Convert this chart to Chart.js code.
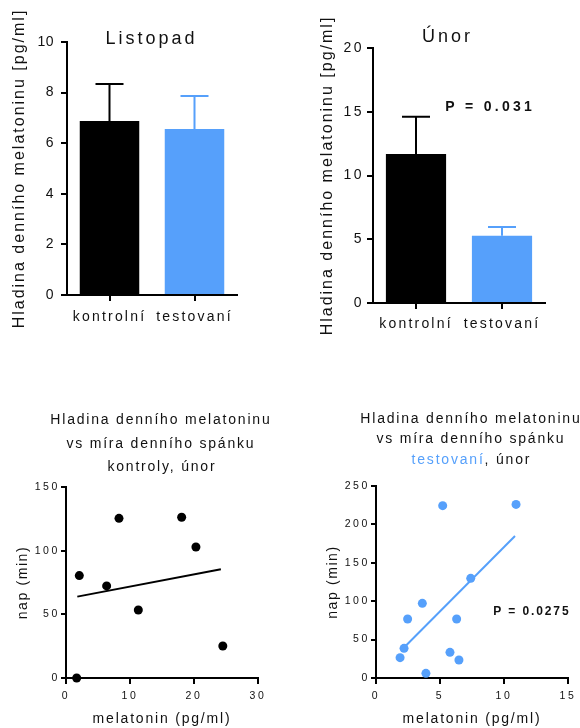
<!DOCTYPE html>
<html lang="cs">
<head>
<meta charset="UTF-8">
<title>Hladina denního melatoninu</title>
<script src="https://cdn.jsdelivr.net/npm/chart.js@4.4.1/dist/chart.umd.min.js"></script>
<style>
  * { margin: 0; padding: 0; box-sizing: border-box; }
  body { width: 580px; height: 728px; background: #fff; position: relative; overflow: hidden; }
  canvas { position: absolute; }
  #nov { left: 0; top: 0; }
  #feb { left: 290px; top: 0; }
  #ctrl { left: 0; top: 400px; }
  #test { left: 290px; top: 400px; }
</style>
</head>
<body>
<canvas id="nov" width="290" height="340"></canvas>
<canvas id="feb" width="290" height="340"></canvas>
<canvas id="ctrl" width="290" height="328"></canvas>
<canvas id="test" width="290" height="328"></canvas>

<script>
// --- data ---
const groups = ['kontrolní', 'testovaní'];

const novMeans = [6.88, 6.56];
const novSem = [1.46, 1.31];
const novTicks = [0, 2, 4, 6, 8, 10];

const febMeans = [11.69, 5.27];
const febSem = [2.91, 0.69];
const febTicks = [0, 5, 10, 15, 20];

const ctrlMelatonin = [1.67, 2.08, 6.35, 8.28, 11.3, 18.07, 20.3, 24.5];
const ctrlNap = [0, 80.4, 72.3, 125.4, 53.4, 126.2, 102.9, 25.1];
const ctrlFitX = [1.77, 24.2];
const ctrlFitY = [63.9, 85.4];
const ctrlXTicks = [0, 10, 20, 30];
const ctrlYTicks = [0, 50, 100, 150];

const testMelatonin = [1.88, 2.19, 2.47, 3.62, 3.9, 5.21, 5.78, 6.3, 6.48, 7.4, 10.94];
const testNap = [26.5, 38.6, 76.8, 97.2, 6.1, 224.4, 33.4, 76.8, 23.4, 129.8, 226];
const testFitX = [2.21, 10.86];
const testFitY = [40, 184.9];
const testXTicks = [0, 5, 10, 15];
const testYTicks = [0, 50, 100, 150, 200, 250];

// --- styling ---
const FONT = "'Liberation Sans', Arial, Helvetica, sans-serif";
const INK = '#111';
const BLUE = '#56a0fb';

// fixes the axis box size and spaces out its text like Prism does
function axisBox(size, labelPx, titlePx) {
  return scale => {
    if (scale.isHorizontal()) scale.height = size; else scale.width = size;
    if (scale._spaced) return;
    scale._spaced = true;
    const ctx = scale.ctx;
    [['drawLabels', labelPx], ['drawTitle', titlePx]].forEach(([name, px]) => {
      const orig = scale[name].bind(scale);
      scale[name] = (...a) => {
        ctx.save();
        ctx.letterSpacing = px + 'px';
        orig(...a);
        ctx.restore();
      };
    });
  };
}

const useTicks = list => scale => { scale.ticks = list.map(v => ({ value: v })); };

function axis(opts) {
  return {
    type: opts.type || 'linear',
    min: opts.min,
    max: opts.max,
    offset: !!opts.offset,
    afterBuildTicks: opts.ticks ? useTicks(opts.ticks) : undefined,
    afterFit: axisBox(opts.size, opts.labelSpacing, opts.titleSpacing || 0),
    border: { display: true, color: '#000', width: 2 },
    grid: {
      display: true, drawOnChartArea: false, drawTicks: true, offset: false,
      tickLength: opts.tickLength, color: '#000', lineWidth: 2
    },
    ticks: {
      color: INK, padding: opts.labelPad, autoSkip: false, maxRotation: 0,
      font: { family: FONT, size: opts.fontSize }
    },
    title: opts.title ? {
      display: true, text: opts.title, color: INK,
      font: { family: FONT, size: opts.titleSize },
      padding: { top: opts.titlePad, bottom: opts.titlePad }
    } : { display: false }
  };
}

function errorBars(errors) {
  return {
    id: 'errorBars',
    afterDatasetsDraw(chart) {
      const { ctx } = chart;
      const y = chart.scales.y;
      const ds = chart.data.datasets[0];
      chart.getDatasetMeta(0).data.forEach((bar, i) => {
        const top = y.getPixelForValue(ds.data[i] + errors[i]);
        ctx.save();
        ctx.strokeStyle = ds.backgroundColor[i];
        ctx.lineWidth = 2;
        ctx.beginPath();
        ctx.moveTo(bar.x, bar.y);
        ctx.lineTo(bar.x, top);
        ctx.moveTo(bar.x - 14, top);
        ctx.lineTo(bar.x + 14, top);
        ctx.stroke();
        ctx.restore();
      });
    }
  };
}

// titles and P values, centred on x; "at" puts them in data coordinates
function texts(items) {
  return {
    id: 'texts',
    afterDraw(chart) {
      const ctx = chart.ctx;
      items.forEach(it => {
        ctx.save();
        ctx.font = it.font;
        ctx.letterSpacing = it.spacing + 'px';
        ctx.textBaseline = 'alphabetic';
        ctx.textAlign = 'left';
        let x = it.x, y = it.y;
        if (it.at) {
          x = chart.scales.x.getPixelForValue(it.at[0]);
          y = chart.scales.y.getPixelForValue(it.at[1]);
        }
        const parts = it.parts || [{ text: it.text, color: INK }];
        const widths = parts.map(p => ctx.measureText(p.text).width);
        const total = widths.reduce((a, b) => a + b, 0) - it.spacing;
        let cx = x - total / 2;
        parts.forEach((p, i) => {
          ctx.fillStyle = p.color;
          ctx.fillText(p.text, cx, y);
          cx += widths[i];
        });
        ctx.restore();
      });
    }
  };
}

const common = {
  responsive: false,
  animation: false,
  events: [],
};

// --- Listopad ---
new Chart(document.getElementById('nov'), {
  type: 'bar',
  data: {
    labels: groups,
    datasets: [{ data: novMeans, backgroundColor: ['#000', BLUE], barPercentage: 0.7, categoryPercentage: 1 }]
  },
  options: {
    ...common,
    layout: { padding: { top: 42, right: 53, left: 0, bottom: 0 } },
    scales: {
      x: axis({ type: 'category', offset: true, size: 45, tickLength: 6, labelPad: 7.5, fontSize: 14, labelSpacing: 2.2 }),
      y: axis({ min: 0, max: 10, ticks: novTicks, size: 67, tickLength: 6, labelPad: 7, fontSize: 14, labelSpacing: 0.5,
        title: 'Hladina denního melatoninu [pg/ml]', titleSize: 16, titlePad: 10.4, titleSpacing: 2 })
    },
    plugins: { legend: { display: false }, tooltip: { enabled: false } }
  },
  plugins: [
    errorBars(novSem),
    texts([{ text: 'Listopad', x: 150, y: 44, font: `18px ${FONT}`, spacing: 3 }])
  ]
});

// --- Únor ---
new Chart(document.getElementById('feb'), {
  type: 'bar',
  data: {
    labels: groups,
    datasets: [{ data: febMeans, backgroundColor: ['#000', BLUE], barPercentage: 0.7, categoryPercentage: 1 }]
  },
  options: {
    ...common,
    layout: { padding: { top: 48, right: 35, left: 0, bottom: 0 } },
    scales: {
      x: axis({ type: 'category', offset: true, size: 37, tickLength: 6, labelPad: 6.6, fontSize: 14, labelSpacing: 2.2 }),
      y: axis({ min: 0, max: 20, ticks: febTicks, size: 83, tickLength: 6, labelPad: 3, fontSize: 14, labelSpacing: 2.5,
        title: 'Hladina denního melatoninu [pg/ml]', titleSize: 16, titlePad: 28.4, titleSpacing: 2 })
    },
    plugins: { legend: { display: false }, tooltip: { enabled: false } }
  },
  plugins: [
    errorBars(febSem),
    texts([
      { text: 'Únor', x: 156, y: 42, font: `18px ${FONT}`, spacing: 3 },
      { text: 'P = 0.031', at: [0.843, 15.06], font: `bold 14px ${FONT}`, spacing: 3.3 }
    ])
  ]
});

// --- scatter plots ---
function scatterChart(id, xs, ys, fitX, fitY, color, cfg) {
  return new Chart(document.getElementById(id), {
    type: 'scatter',
    data: {
      datasets: [
        {
          data: xs.map((x, i) => ({ x, y: ys[i] })),
          backgroundColor: color, borderWidth: 0, pointRadius: 4.5, clip: false
        },
        {
          data: fitX.map((x, i) => ({ x, y: fitY[i] })),
          showLine: true, borderColor: color, borderWidth: 2, pointRadius: 0, clip: false
        }
      ]
    },
    options: {
      ...common,
      layout: { padding: { top: cfg.top, right: cfg.right, left: 0, bottom: 0 } },
      scales: {
        x: axis({ min: cfg.xTicks[0], max: cfg.xTicks[cfg.xTicks.length - 1], ticks: cfg.xTicks, size: 50,
          tickLength: 6, labelPad: 5.5, fontSize: 10.5, labelSpacing: 2.6,
          title: 'melatonin (pg/ml)', titleSize: 14, titlePad: 0, titleSpacing: 1.8 }),
        y: axis({ min: cfg.yTicks[0], max: cfg.yTicks[cfg.yTicks.length - 1], ticks: cfg.yTicks, size: cfg.yWidth,
          tickLength: 5, labelPad: 1, fontSize: 10.5, labelSpacing: 2.6,
          title: 'nap (min)', titleSize: 14, titlePad: cfg.yTitlePad, titleSpacing: 1.6 })
      },
      plugins: { legend: { display: false }, tooltip: { enabled: false } }
    },
    plugins: [texts(cfg.texts)]
  });
}

const titleFont = `14px ${FONT}`;

scatterChart('ctrl', ctrlMelatonin, ctrlNap, ctrlFitX, ctrlFitY, '#000', {
  top: 87, right: 32, yWidth: 66, yTitlePad: 14.6,
  xTicks: ctrlXTicks, yTicks: ctrlYTicks,
  texts: [
    { text: 'Hladina denního melatoninu', x: 160, y: 24, font: titleFont, spacing: 1.8 },
    { text: 'vs míra denního spánku', x: 160, y: 47.5, font: titleFont, spacing: 1.8 },
    { text: 'kontroly, únor', x: 161, y: 71, font: titleFont, spacing: 1.8 }
  ]
});

scatterChart('test', testMelatonin, testNap, testFitX, testFitY, BLUE, {
  top: 86, right: 12, yWidth: 86, yTitlePad: 34.6,
  xTicks: testXTicks, yTicks: testYTicks,
  texts: [
    { text: 'Hladina denního melatoninu', x: 180, y: 22.7, font: titleFont, spacing: 1.8 },
    { text: 'vs míra denního spánku', x: 180, y: 43.3, font: titleFont, spacing: 1.8 },
    { parts: [{ text: 'testovaní', color: BLUE }, { text: ', únor', color: INK }], x: 180.5, y: 64, font: titleFont, spacing: 1.8 },
    { text: 'P = 0.0275', at: [12.1, 82], font: `bold 12px ${FONT}`, spacing: 1.9 }
  ]
});
</script>
</body>
</html>
